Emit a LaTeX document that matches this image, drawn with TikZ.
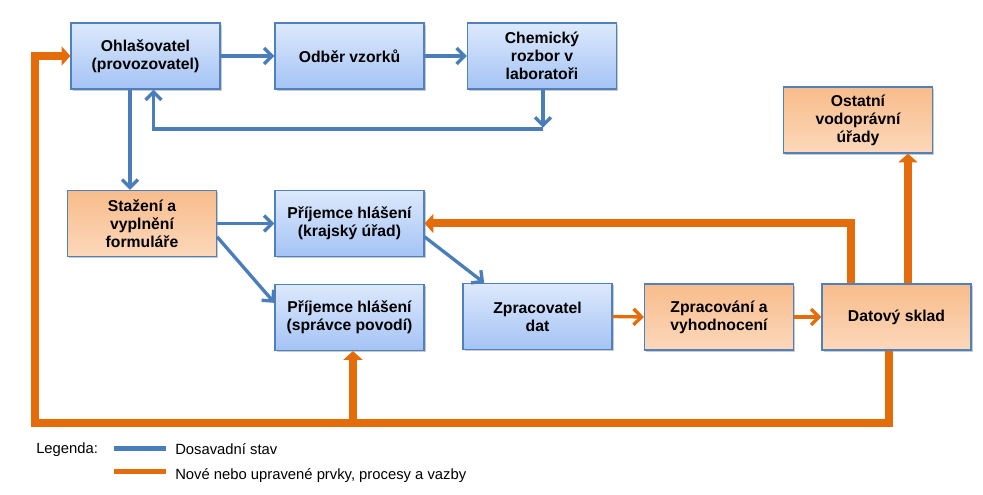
\documentclass[tikz,border=0pt]{standalone}
\usepackage{fontspec}
\setmainfont{Liberation Sans}
\usetikzlibrary{arrows.meta,shadows}
\definecolor{bln}{HTML}{4A7EBB}
\definecolor{org}{HTML}{E46C0A}
\definecolor{bdr}{HTML}{4F81BD}
\definecolor{btop}{HTML}{DDE9FC}
\definecolor{bbot}{HTML}{A4C3F5}
\definecolor{otop}{HTML}{F8BC8B}
\definecolor{obot}{HTML}{FCD8BB}
\begin{document}
\begin{tikzpicture}[x=0.75pt,y=-0.75pt,
 box/.style={draw=bdr, line width=0.9pt, minimum width=111.75pt, minimum height=49.5pt, inner sep=0pt, align=center,
   font=\fontsize{11.8}{13.5}\selectfont\bfseries,
   drop shadow={shadow xshift=1.2pt, shadow yshift=-1.2pt, opacity=0.35, fill=black!60}},
 bbox/.style={box, top color=btop, bottom color=bbot},
 obox/.style={box, top color=otop, bottom color=obot},
 barrow/.style={draw=bln, line width=2.5pt, -{Straight Barb[length=6pt,width=12pt]}},
 oarrow/.style={draw=org, line width=2.5pt, -{Straight Barb[length=6pt,width=12pt]}},
 othick/.style={draw=org, line width=6pt, -{Triangle[length=6.5pt,width=14pt]}},
 legline/.style={line width=3.75pt},
 legtext/.style={anchor=west, inner sep=0pt, font=\fontsize{11.1}{13}\selectfont, text height=8pt, text depth=2.5pt},
]
\useasboundingbox (0,0) rectangle (983,495);

\node[bbox] (A) at (145.5,56) {Ohlašovatel\\(provozovatel)};
\node[bbox] (B) at (349.5,56) {Odběr vzorků};
\node[bbox] (C) at (542,56) {Chemický\\rozbor v\\laboratoři};
\node[obox] (D) at (858,120) {Ostatní\\vodoprávní\\úřady};
\node[obox] (E) at (142,223.5) {Stažení a\\vyplnění\\formuláře};
\node[bbox] (F) at (349.5,223.5) {Příjemce hlášení\\(krajský úřad)};
\node[bbox] (G) at (349.5,317.5) {Příjemce hlášení\\(správce povodí)};
\node[bbox] (H) at (537.5,316.5) {Zpracovatel\\dat};
\node[obox] (I) at (719,317) {Zpracování a\\vyhodnocení};
\node[obox] (J) at (896.5,317) {Datový sklad};

% blue connectors
\draw[barrow] (A.east) -- (B.west);
\draw[barrow] (B.east) -- (C.west);
\coordinate (fb) at (543,129);
\draw[barrow] (C.south -| fb) -- ([yshift=1pt]fb);
\draw[barrow] (fb) -| ([xshift=6pt]A.south);
\draw[barrow] ([xshift=-11.6pt]A.south) -- ([xshift=-11.6pt]A.south |- E.north);
\draw[barrow] (E.east) -- (F.west);
\draw[barrow] ([yshift=-10pt]E.east) -- ([yshift=11pt]G.west);
\draw[barrow] ([yshift=-10pt]F.east) -- ([xshift=-40pt]H.north);

% orange connectors
\draw[oarrow] (H.east) -- (I.west);
\draw[oarrow] (I.east) -- (J.west);
\draw[othick] ([xshift=-34pt]J.north) |- (F.east);
\draw[othick] ([xshift=8.6pt]J.north) -- ([xshift=8.6pt]J.north |- D.south);
\coordinate (bl) at (35,423);
\draw[othick] ([xshift=-5.6pt]J.south) |- (bl) |- (A.west);
\draw[othick] ([xshift=2.6pt]G.south |- bl) -- ([xshift=2.6pt]G.south);

% legend
\node[legtext] (lg) at (36,450) {Legenda:};
\coordinate (l1a) at (114,449);
\coordinate (l1b) at (166,449);
\coordinate (l2a) at (114,472);
\coordinate (l2b) at (166,472);
\draw[legline, draw=bln] (l1a) -- (l1b);
\draw[legline, draw=org] (l2a) -- (l2b);
\node[legtext] (t1) at (175,451) {Dosavadní stav};
\node[legtext] (t2) at (175,476) {Nové nebo upravené prvky, procesy a vazby};
\end{tikzpicture}
\end{document}
